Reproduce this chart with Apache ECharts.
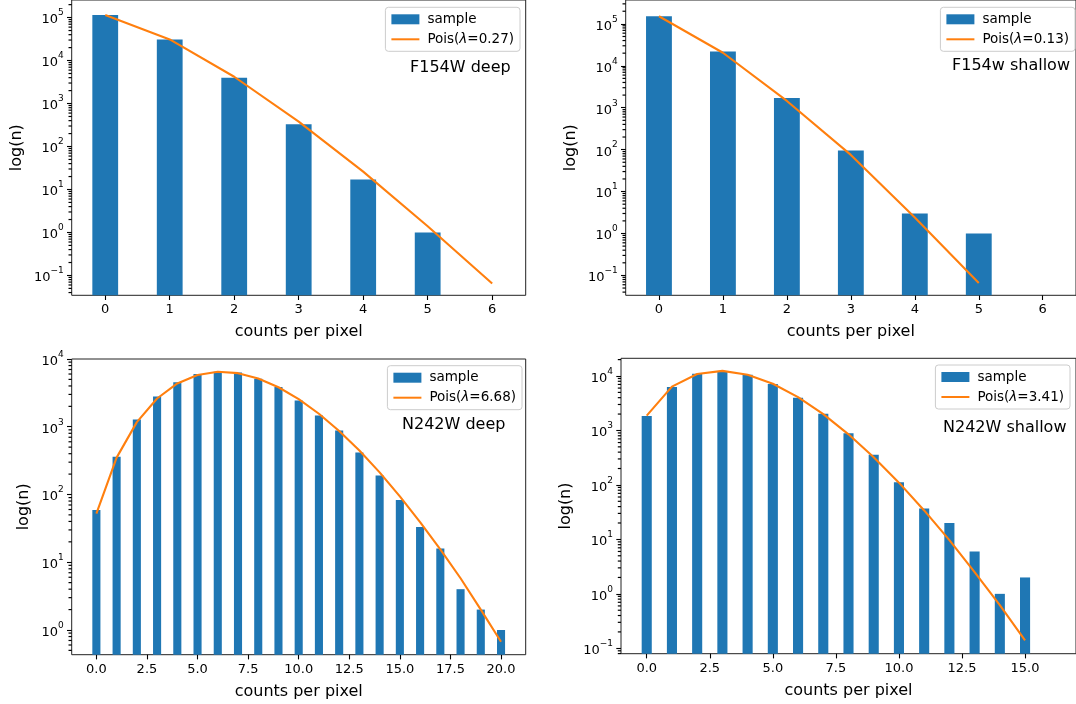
<!DOCTYPE html>
<html>
<head>
<meta charset="utf-8">
<script src="https://cdn.jsdelivr.net/npm/echarts@6/dist/echarts.min.js"></script>
<style>
html,body{margin:0;padding:0;background:#fff;}
#chart{width:1076px;height:704px;}
</style>
</head>
<body>
<div id="chart"></div>
<script>
// ---------------- data ----------------
const f154wDeepX = [0, 1, 2, 3, 4, 5];
const f154wDeepSample = [115000, 31000, 4000, 330, 17, 1];
const f154wDeepPoisX = [0, 1, 2, 3, 4, 5, 6];
const f154wDeepPois = [115000, 31000, 4200, 380, 26, 1.4, 0.065];

const f154wShallowX = [0, 1, 2, 3, 4, 5];
const f154wShallowSample = [152000, 22000, 1700, 96, 3, 1];
const f154wShallowPoisX = [0, 1, 2, 3, 4, 5];
const f154wShallowPois = [152000, 20500, 1450, 75, 2.4, 0.066];

const n242wDeepX = [0, 1, 2, 3, 4, 5, 6, 7, 8, 9, 10, 11, 12, 13, 14, 15, 16, 17, 18, 19, 20];
const n242wDeepSample = [59, 360, 1280, 2800, 4550, 6000, 6500, 6300, 5100, 3850, 2450, 1470, 880, 415, 190, 83, 33, 16, 4, 2, 1];
const n242wDeepPois = [52, 350, 1170, 2610, 4360, 5820, 6480, 6180, 5160, 3830, 2560, 1555, 865, 445, 212, 94, 39, 15.5, 5.8, 2.0, 0.67];

const n242wShallowX = [0, 1, 2, 3, 4, 5, 6, 7, 8, 9, 10, 11, 12, 13, 14, 15];
const n242wShallowSample = [1840, 6300, 11000, 12200, 10500, 7100, 3970, 2030, 890, 357, 112, 37, 20, 6, 1, 2];
const n242wShallowPois = [1870, 6380, 10900, 12400, 10550, 7190, 4090, 1990, 850, 322, 110, 34, 9.7, 2.5, 0.62, 0.14];

const panelTitles = ['F154W deep', 'F154w shallow', 'N242W deep', 'N242W shallow'];
const poisLabels = ['Pois(λ=0.27)', 'Pois(λ=0.13)', 'Pois(λ=6.68)', 'Pois(λ=3.41)'];

const topXTicks = [0, 1, 2, 3, 4, 5, 6];
const bottomLeftXTicks = [0, 2.5, 5, 7.5, 10, 12.5, 15, 17.5, 20];
const bottomRightXTicks = [0, 2.5, 5, 7.5, 10, 12.5, 15];
const topYTicks = [0.1, 1, 10, 100, 1000, 10000, 100000];
const bottomLeftYTicks = [1, 10, 100, 1000, 10000];
const bottomRightYTicks = [0.1, 1, 10, 100, 1000, 10000];

const xLabel = 'counts per pixel';
const yLabel = 'log(n)';

// ---------------- layout / style ----------------
const FONT = 'DejaVu Sans';
const BAR = '#1f77b4';
const LINE = '#ff7f0e';

const panels = [
  { grid: {left: 71.7, top: -2, width: 454, height: 297.3}, x: [-0.52, 6.52], y: [-1.462, 5.409],
    xs: f154wDeepX, bars: f154wDeepSample, lx: f154wDeepPoisX, line: f154wDeepPois,
    xt: topXTicks, yt: topYTicks, xfmt: v => String(v), nameGapY: 47,
    legend: {right: 556, top: 7.3}, title: {x: 410, y: 69} },
  { grid: {left: 625.7, top: -2, width: 455, height: 297.3}, x: [-0.52, 6.52], y: [-1.474, 5.569],
    xs: f154wShallowX, bars: f154wShallowSample, lx: f154wShallowPoisX, line: f154wShallowPois,
    xt: topXTicks, yt: topYTicks, xfmt: v => String(v), nameGapY: 47,
    legend: {right: 1, top: 7.3}, title: {x: 952, y: 67} },
  { grid: {left: 71.7, top: 359, width: 454, height: 295.7}, x: [-1.22, 21.22], y: [-0.365, 4.0],
    xs: n242wDeepX, bars: n242wDeepSample, lx: n242wDeepX, line: n242wDeepPois,
    xt: bottomLeftXTicks, yt: bottomLeftYTicks, xfmt: v => v.toFixed(1), nameGapY: 40,
    legend: {right: 554, top: 365.7}, title: {x: 402, y: 426} },
  { grid: {left: 621, top: 358.3, width: 455.3, height: 295.4}, x: [-1.02, 17.02], y: [-1.099, 4.325],
    xs: n242wShallowX, bars: n242wShallowSample, lx: n242wShallowX, line: n242wShallowPois,
    xt: bottomRightXTicks, yt: bottomRightYTicks, xfmt: v => v.toFixed(1), nameGapY: 47,
    legend: {right: 6, top: 365}, title: {x: 943, y: 429} }
];

function supFmt(v) {
  const e = Math.round(Math.log10(v));
  return '{b|10}{s|' + (e < 0 ? '\u2212' + (-e) : String(e)) + '}';
}

const grids = [], xAxes = [], yAxes = [], series = [], legends = [], graphics = [];

panels.forEach((p, i) => {
  grids.push(Object.assign({show: true, borderColor: '#222', borderWidth: 1, containLabel: false}, p.grid));
  xAxes.push({
    type: 'value', gridIndex: i, min: p.x[0], max: p.x[1],
    splitLine: {show: false}, axisLine: {show: false, onZero: false},
    axisTick: {show: true, length: 4.7, lineStyle: {color: '#000', width: 1.1}, customValues: p.xt},
    axisLabel: {color: '#000', fontFamily: FONT, fontSize: 13, margin: 8, formatter: p.xfmt, customValues: p.xt},
    name: xLabel, nameLocation: 'middle', nameGap: 29,
    nameTextStyle: {color: '#000', fontFamily: FONT, fontSize: 16}
  });
  const ymin = Math.pow(10, p.y[0]), ymax = Math.pow(10, p.y[1]);
  yAxes.push({
    type: 'log', logBase: 10, gridIndex: i, min: ymin, max: ymax, startValue: ymin,
    splitLine: {show: false}, axisLine: {show: false, onZero: false},
    axisTick: {show: true, length: 4.7, lineStyle: {color: '#000', width: 1.1}, customValues: p.yt},
    axisLabel: {
      color: '#000', fontFamily: FONT, margin: 8, formatter: supFmt, customValues: p.yt,
      rich: {
        b: {fontSize: 13, fontFamily: FONT, color: '#000', lineHeight: 18, verticalAlign: 'bottom'},
        s: {fontSize: 9, fontFamily: FONT, color: '#000', lineHeight: 9, verticalAlign: 'top'}
      }
    },
    minorTick: {show: false},
    name: yLabel, nameLocation: 'middle', nameRotate: 90, nameGap: p.nameGapY,
    nameTextStyle: {color: '#000', fontFamily: FONT, fontSize: 16}
  });

  const barW = p.grid.width / (p.x[1] - p.x[0]) * 0.4;
  series.push({
    type: 'bar', name: 'sample', xAxisIndex: i, yAxisIndex: i,
    data: p.xs.map((x, k) => [x, p.bars[k]]),
    barWidth: barW, itemStyle: {color: BAR}, silent: true, z: 2
  });
  series.push({
    type: 'line', name: poisLabels[i], xAxisIndex: i, yAxisIndex: i,
    data: p.lx.map((x, k) => [x, p.line[k]]),
    symbol: 'none', lineStyle: {color: LINE, width: 2.1}, itemStyle: {color: LINE},
    silent: true, z: 3, animation: false
  });
  // minor log ticks (2..9 x 10^k) on the left spine, placed by the axes
  const minor = [];
  for (let e = Math.floor(p.y[0]); e <= Math.ceil(p.y[1]); e++) {
    for (let m = 2; m <= 9; m++) {
      const v = m * Math.pow(10, e);
      const lv = Math.log10(v);
      if (lv > p.y[0] && lv < p.y[1]) minor.push([p.x[0], v]);
    }
  }
  series.push({
    type: 'scatter', name: 'minor' + i, xAxisIndex: i, yAxisIndex: i, silent: true, z: 5,
    data: minor, clip: false,
    symbol: 'rect', symbolSize: [3.2, 1.2], symbolOffset: [-1.6, 0],
    itemStyle: {color: '#000', opacity: 1}
  });

  legends.push({
    right: p.legend.right, top: p.legend.top, orient: 'vertical',
    data: [{name: 'sample', icon: 'rect'}, {name: poisLabels[i], itemStyle: {opacity: 0}}],
    itemWidth: 28, itemHeight: 10, itemGap: 4,
    padding: [4, 6, 4, 5],
    backgroundColor: 'rgba(255,255,255,0.8)', borderColor: '#cccccc', borderWidth: 1, borderRadius: 3,
    selectedMode: false,
    formatter: n => n.replace('λ', '{i|λ}'),
    textStyle: {color: '#000', fontFamily: FONT, fontSize: 13.5, lineHeight: 16, padding: [0, 0, 0, 3],
      rich: {i: {fontStyle: 'italic', fontFamily: FONT, fontSize: 13.5, color: '#000'}}}
  });

  graphics.push({
    type: 'text', left: p.title.x, top: p.title.y - 9, silent: true,
    style: {text: panelTitles[i], fill: '#000', font: '16px "DejaVu Sans"'}
  });
});

const chart = echarts.init(document.getElementById('chart'), null, {renderer: 'canvas'});
chart.setOption({
  animation: false,
  backgroundColor: '#fff',
  grid: grids, xAxis: xAxes, yAxis: yAxes, series: series, legend: legends,
  graphic: graphics
});
</script>
</body>
</html>
